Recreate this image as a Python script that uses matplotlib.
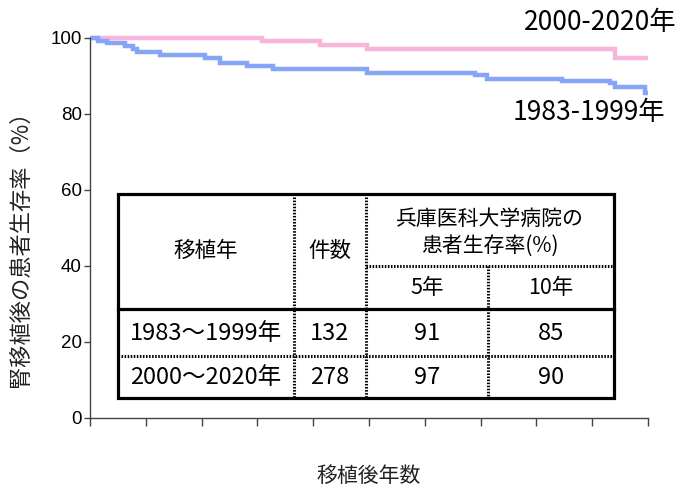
import matplotlib.pyplot as plt
from matplotlib.patches import Rectangle

plt.rcParams['font.family'] = ['Noto Sans CJK JP', 'DejaVu Sans']

# survival curves (years after transplant, survival %)
early_years = [0, 0.14, 0.30, 0.63, 0.77, 0.84, 1.25, 2.06, 2.33, 2.81, 3.28,
               4.96, 6.90, 7.11, 8.46, 9.32, 9.41, 9.95, 10.0]
early_surv = [100, 99.3, 98.6, 97.9, 97.0, 96.2, 95.5, 94.7, 93.5, 92.6, 91.8,
              90.9, 90.2, 89.3, 88.6, 88.1, 87.2, 85.6, 85.6]
late_years = [0, 3.08, 4.12, 4.96, 9.41, 10.0]
late_surv = [100, 99.2, 98.2, 97.1, 94.8, 94.8]

early_label = "1983-1999年"
late_label = "2000-2020年"

yticks = [0, 20, 40, 60, 80, 100]
xticks = list(range(11))

# table contents
head_period = "移植年"
head_count = "件数"
head_rate = ["兵庫医科大学病院の", "患者生存率(%)"]
head_5 = "5年"
head_10 = "10年"
periods = ["1983～1999年", "2000～2020年"]
counts = [132, 278]
rate5 = [91, 97]
rate10 = [85, 90]

W, H = 678, 488
fig = plt.figure(figsize=(W / 100, H / 100), dpi=100)
ax = fig.add_axes([90 / W, 1 - 418 / H, 558 / W, 380 / H])

pink = '#F8B4DA'
blue = '#86A5F6'
ax.step(late_years, late_surv, where='post', color=pink, lw=3.2,
        solid_capstyle='butt', solid_joinstyle='miter', clip_on=False)
ax.step(early_years, early_surv, where='post', color=blue, lw=3.2,
        solid_capstyle='butt', solid_joinstyle='miter', clip_on=False)

ax.set_xlim(0, 10)
ax.set_ylim(0, 100)
ax.set_xticks(xticks)
ax.set_xticklabels([])
ax.set_yticks(yticks)
ax.set_yticklabels([str(v) for v in yticks], family='Liberation Sans', fontsize=13.5)
for s in ['top', 'right']:
    ax.spines[s].set_visible(False)
for s in ['left', 'bottom']:
    ax.spines[s].set_color('#444444')
    ax.spines[s].set_linewidth(1.0)
ax.tick_params(axis='both', direction='out', color='#444444', width=1.0)
ax.tick_params(axis='y', length=4, pad=2)
ax.tick_params(axis='x', length=6)

fig.text(20 / W, 1 - 243 / H, "腎移植後の患者生存率（%）", rotation=90,
         ha='center', va='center', fontsize=16, color='#222222')
fig.text(369 / W, 1 - 476 / H, "移植後年数", ha='center', va='center',
         fontsize=15, color='#222222')

fig.text(677 / W, 1 - 22 / H, late_label, ha='right', va='center', fontsize=19)
fig.text(665 / W, 1 - 113 / H, early_label, ha='right', va='center', fontsize=19)


# table, laid out in pixel positions converted to axes fraction
def fx(px):
    return (px - 90) / 558


def fy(py):
    return (418 - py) / 380


tl, tr, tt, tb = 118, 614, 194, 398
c_a, c_b, c_c = 294, 366, 488
r_sub, r_head, r_mid = 266, 309, 356

ax.add_patch(Rectangle((fx(tl), fy(tb)), fx(tr) - fx(tl), fy(tt) - fy(tb),
                       transform=ax.transAxes, facecolor='white',
                       edgecolor='black', lw=2.3, zorder=3, clip_on=False))

dot = dict(color='black', lw=2.2, linestyle=(0, (0.5, 0.5)),
           transform=ax.transAxes, zorder=4, clip_on=False)
solid = dict(color='black', lw=2.3, transform=ax.transAxes, zorder=4,
             clip_on=False)

ax.plot([fx(c_a), fx(c_a)], [fy(tt), fy(tb)], **dot)
ax.plot([fx(c_b), fx(c_b)], [fy(tt), fy(tb)], **dot)
ax.plot([fx(c_c), fx(c_c)], [fy(r_sub), fy(tb)], **dot)
ax.plot([fx(c_b), fx(tr)], [fy(r_sub), fy(r_sub)], **dot)
ax.plot([fx(tl), fx(tr)], [fy(r_mid), fy(r_mid)], **dot)
ax.plot([fx(tl), fx(tr)], [fy(r_head), fy(r_head)], **solid)


def cell(px, py, s, size):
    ax.text(fx(px), fy(py), s, transform=ax.transAxes, ha='center',
            va='center', fontsize=size, zorder=5)


col1 = (tl + c_a) / 2
col2 = (c_a + c_b) / 2
col3 = (c_b + c_c) / 2
col4 = (c_c + tr) / 2
cell(col1, 251, head_period, 15.5)
cell(col2, 251, head_count, 15.5)
cell((c_b + tr) / 2, 219, head_rate[0], 15)
cell((c_b + tr) / 2, 246, head_rate[1], 15)
cell(col3, 288, head_5, 15.5)
cell(col4, 288, head_10, 15.5)

row_y = [333, 377]
for i in range(len(periods)):
    cell(col1, row_y[i], periods[i], 17)
    cell(col2, row_y[i], str(counts[i]), 17)
    cell(col3, row_y[i], str(rate5[i]), 17)
    cell(col4, row_y[i], str(rate10[i]), 17)

fig.savefig("out.png", dpi=100)
